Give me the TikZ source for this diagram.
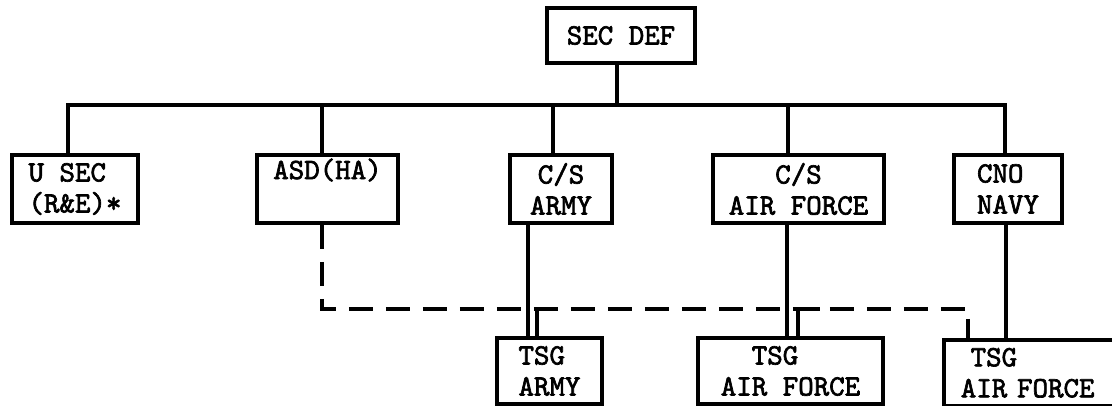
\documentclass[tikz,border=0pt]{standalone}
\usepackage{fontspec}
\newfontfamily\typer{lmmono10-regular.otf}[AutoFakeBold=2.2]
\usepackage{tikz}
\usetikzlibrary{calc}

\begin{document}
\begin{tikzpicture}[x=1pt,y=-1pt,
    unit/.style={draw, line width=3.6pt, align=left, inner sep=0pt,
      font=\typer\bfseries\fontsize{29.5}{31}\selectfont},
    link/.style={line width=3.6pt},
    staff/.style={line width=3.6pt, dash pattern=on 24pt off 13pt}]
  \path[use as bounding box] (0,0) rectangle (1112,406);
  \clip (0,0) rectangle (1112,406);

  % top box
  \node[unit, minimum width=148, minimum height=55] (secdef) at (621,35.5) {SEC DEF};

  % second row
  \node[unit, minimum width=126, minimum height=68] (usec) at (75,189) {U SEC\\(R\&E)*};
  \node[unit, minimum width=141, minimum height=68] (asd) at (327.5,189) {ASD(HA)\\\strut};
  \node[unit, minimum width=102, minimum height=68, align=center] (csarmy) at (561,189) {C/S\\ARMY};
  \node[unit, minimum width=171, minimum height=68, align=center] (csaf) at (798.5,189) {C/S\\AIR FORCE};
  \node[unit, minimum width=108, minimum height=68] (cno) at (1008,189) {CNO\\NAVY};

  % third row
  \node[unit, minimum width=105, minimum height=66] (tsgarmy) at (549.5,371) {TSG\\ARMY};
  \node[unit, minimum width=185, minimum height=66] (tsgaf) at (790.5,371) {~~TSG\\AIR FORCE};
  \node[unit, anchor=north west, text width=155pt, inner xsep=17pt, minimum height=66] (tsgafr) at (942,338) {~TSG\\AIR FORCE};

  % bus
  \coordinate (busL) at (68,105);
  \coordinate (busR) at (1005,105);
  \draw[link] (secdef.south -| 617,0) -- (617,105);
  \draw[link] (busL |- usec.north) -- (busL) -- (busR) -- (busR |- cno.north);
  \foreach \x/\n in {322/asd, 553/csarmy, 788/csaf}
    \draw[link] (\x,105) -- (\x,105 |- \n.north);

  % line links down
  \draw[link] (csarmy.south -| 528,0) -- (tsgarmy.north -| 528,0);
  \draw[link] (csaf.south -| 787,0) -- (tsgaf.north -| 787,0);
  \draw[link] (cno.south -| 1006,0) -- (tsgafr.north -| 1006,0);

  % staff links (dashed)
  \coordinate (staffL) at (322,309);
  \coordinate (staffR) at (968,309);
  \draw[staff] (asd.south -| staffL) -- (staffL) -- (staffR) -- (staffR |- tsgafr.north);
  \draw[link] (tsgarmy.north -| 537,0) |- (558,309);
  \draw[link] (tsgaf.north -| 798,0) |- (820,309);
\end{tikzpicture}
\end{document}
